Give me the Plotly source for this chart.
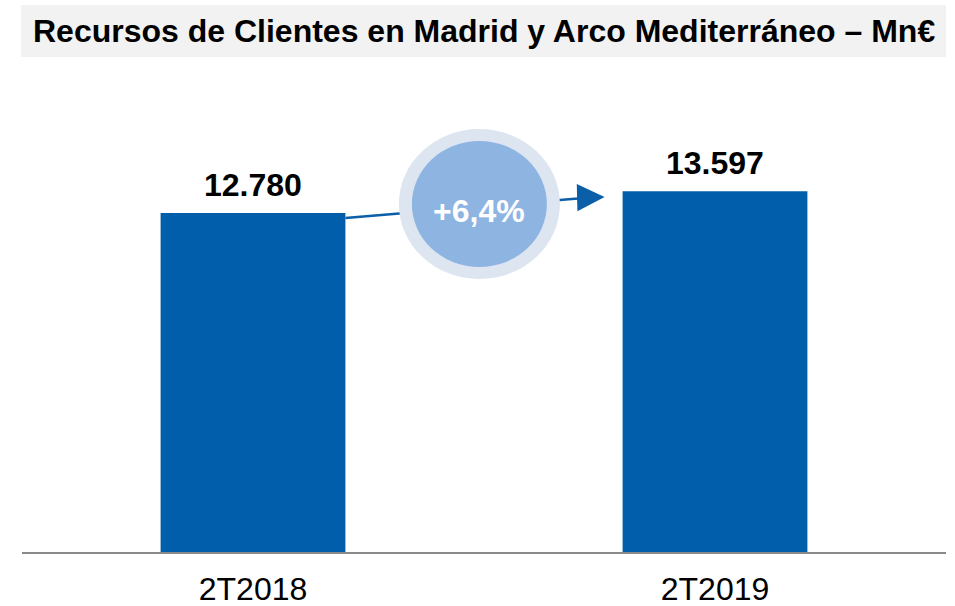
import plotly.graph_objects as go

periods = ["2T2018", "2T2019"]
resources = [12780, 13597]
growth_label = "+6,4%"
title_text = "Recursos de Clientes en Madrid y Arco Mediterráneo – Mn€"

bar_color = "#005EAA"
font_family = "Liberation Sans, Arial, sans-serif"

fig = go.Figure()
fig.add_trace(go.Bar(x=periods, y=resources, width=0.4, marker_color=bar_color,
                     marker_line_width=0, hoverinfo="skip"))

# value labels above each bar
for p, v in zip(periods, resources):
    fig.add_annotation(x=p, y=v, text="<b>%s</b>" % f"{v:,}".replace(",", "."),
                       showarrow=False, yanchor="bottom", yshift=8,
                       font=dict(size=32, color="black", family=font_family))

# arrow line between bars (drawn under the bubble)
fig.add_shape(type="line", xref="x", yref="y", x0=0.2, y0=resources[0] - 190,
              x1=0.73, y1=resources[1] - 230, line=dict(color="#0A5FA8", width=2.5), layer="above")

# growth bubble
cx, cy = 0.49, (resources[0] + resources[1]) / 2 - 70
fig.add_shape(type="circle", xref="x", yref="y", xsizemode="pixel", ysizemode="pixel",
              xanchor=cx, yanchor=cy, x0=-80.5, x1=80.5, y0=-75, y1=75,
              fillcolor="#DDE5F1", line_width=0, layer="above")
fig.add_shape(type="circle", xref="x", yref="y", xsizemode="pixel", ysizemode="pixel",
              xanchor=cx, yanchor=cy, x0=-67.5, x1=67.5, y0=-63, y1=63,
              fillcolor="#8EB4E2", line_width=0, layer="above")
fig.add_annotation(x=cx, y=cy, text="<b>%s</b>" % growth_label, showarrow=False,
                   yshift=-7, font=dict(size=32, color="white", family=font_family))

# arrow head
fig.add_annotation(x=0.761, y=resources[1] - 215, ax=0.70, ay=resources[1] - 238,
                   axref="x", ayref="y", xref="x", yref="y", text="", showarrow=True,
                   arrowhead=2, arrowsize=2.2, arrowwidth=2.5, arrowcolor="#0A5FA8", standoff=0)

# title box
fig.add_shape(type="rect", xref="paper", yref="paper", x0=-0.001, x1=1.0,
              y0=(552 - 57) / 452, y1=(552 - 5) / 452, fillcolor="#F2F2F2", line_width=0, layer="below")
fig.add_annotation(xref="paper", yref="paper", x=0.5, y=(552 - 31) / 452, text="<b>%s</b>" % title_text,
                   showarrow=False, yanchor="middle", font=dict(size=32, color="black", family=font_family))

fig.update_layout(width=955, height=606, margin=dict(l=22, r=9, t=100, b=54),
                  paper_bgcolor="white", plot_bgcolor="white", showlegend=False,
                  font=dict(family=font_family, size=32, color="black"),
                  xaxis=dict(range=[-0.5, 1.5], showline=True, linecolor="#8A8A8A", linewidth=1.5,
                             showgrid=False, zeroline=False, ticks="outside", ticklen=8,
                             tickcolor="rgba(0,0,0,0)", automargin=False,
                             tickfont=dict(size=32, color="black", family=font_family)),
                  yaxis=dict(range=[0, 452 * 12780 / 339], visible=False, showgrid=False, zeroline=False))

fig.write_html("out.html", config={"displayModeBar": False},
               post_script="document.body.style.margin='0';")
